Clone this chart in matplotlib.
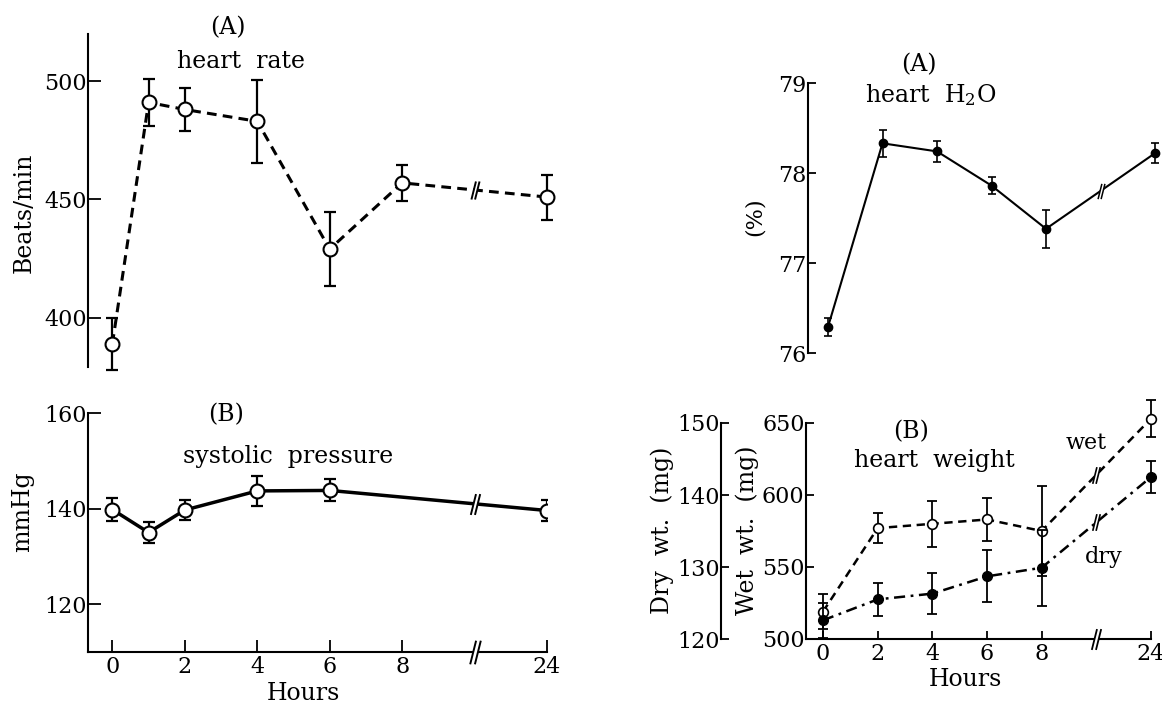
import matplotlib
matplotlib.use('Agg')  # no display

import numpy as np
import matplotlib.pyplot as plt
from matplotlib.path import Path

plt.rcParams['font.family'] = 'DejaVu Serif'
plt.rcParams['mathtext.fontset'] = 'dejavuserif'
plt.rcParams['lines.scale_dashes'] = False

# heart rate (A, left)
hr_hours = [0, 1, 2, 4, 6, 8, 24]
hr_mean = [389, 491, 488, 483, 429, 457, 451]
hr_err = [11, 10, 9, 17.5, 15.5, 7.5, 9.5]

# systolic pressure (B, left)
sp_hours = [0, 1, 2, 4, 6, 24]
sp_mean = [139.8, 135.0, 139.7, 143.7, 143.8, 139.6]
sp_err = [2.4, 2.3, 2.0, 3.2, 2.3, 2.1]

# heart water content (A, right)
h2o_hours = [0, 2, 4, 6, 8, 24]
h2o_mean = [76.29, 78.33, 78.24, 77.86, 77.38, 78.22]
h2o_err = [0.10, 0.15, 0.12, 0.09, 0.21, 0.11]

# heart weight (B, right)
wt_hours = [0, 2, 4, 6, 8, 24]
wet_mean = [519, 577, 580, 583, 575, 653]
wet_err = [12, 10.5, 16, 15, 31, 13]
dry_mean = [122.6, 125.5, 126.3, 128.7, 129.9, 142.5]
dry_err = [2.4, 2.3, 2.8, 3.6, 5.3, 2.2]

tick_hours = [0, 2, 4, 6, 8, 24]

W, H = 1162, 703
fig = plt.figure(figsize=(W / 100, H / 100), dpi=100)


def px_axes(x0, x1, ytop, ybot):
    return fig.add_axes([x0 / W, 1 - ybot / H, (x1 - x0) / W, (ybot - ytop) / H])


def pos(hours):
    # 24 h is drawn after the axis break, at slot 12
    return [h if h <= 8 else 12 for h in hours]


BREAK = Path([(-0.45, -1), (0.05, 1), (-0.05, -1), (0.45, 1)],
             [Path.MOVETO, Path.LINETO, Path.MOVETO, Path.LINETO])
GAP = Path([(-0.45, -1), (0.05, 1), (0.45, 1), (-0.05, -1), (-0.45, -1)],
           [Path.MOVETO, Path.LINETO, Path.LINETO, Path.LINETO, Path.CLOSEPOLY])


def add_break(ax, y, size=14, lw=1.4):
    ax.plot([10], [y], marker=GAP, ms=size, mfc='white', mec='none', mew=0,
            ls='none', zorder=5, clip_on=False)
    ax.plot([10], [y], marker=BREAK, ms=size, mfc='none', mec='k', mew=lw,
            ls='none', zorder=6, clip_on=False)


def style(ax, xaxis=False, tlen=8):
    for s in ['top', 'right']:
        ax.spines[s].set_visible(False)
    ax.spines['bottom'].set_visible(xaxis)
    for s in ax.spines.values():
        s.set_linewidth(1.5)
    ax.tick_params(direction='in', length=tlen, width=1.3, labelsize=16, pad=1)
    ax.tick_params(axis='x', pad=3)
    if xaxis:
        ax.set_xticks(pos(tick_hours))
        ax.set_xticklabels([str(h) for h in tick_hours])
    else:
        ax.set_xticks([])


def txt(x, y, s, size=17, **kw):
    fig.text(x / W, 1 - y / H, s, fontsize=size, ha='center', va='center', **kw)


# ---- (A) heart rate
ax = px_axes(88, 547, 34, 367)
ax.set_xlim(-0.673, 12)
ax.set_ylim(379.2, 519.9)
style(ax, tlen=9)
ax.set_yticks([400, 450, 500])
ax.errorbar(pos(hr_hours), hr_mean, yerr=hr_err, fmt='none', ecolor='k',
            elinewidth=1.6, capsize=4, capthick=1.6, clip_on=False)
ax.plot(pos(hr_hours), hr_mean, color='k', lw=2.2, dashes=(7, 4.5),
        marker='o', ms=10, mfc='white', mec='k', mew=1.5, zorder=4, clip_on=False)
add_break(ax, np.interp(10, pos(hr_hours), hr_mean), size=13)

# ---- (B) systolic pressure
ax = px_axes(88, 547, 413, 652)
ax.set_xlim(-0.673, 12)
ax.set_ylim(110, 160)
style(ax, xaxis=True, tlen=9)
ax.set_yticks([120, 140, 160])
ax.errorbar(pos(sp_hours), sp_mean, yerr=sp_err, fmt='none', ecolor='k',
            elinewidth=1.6, capsize=4, capthick=1.6)
ax.plot(pos(sp_hours), sp_mean, color='k', lw=2.5,
        marker='o', ms=10, mfc='white', mec='k', mew=1.5, zorder=4)
add_break(ax, np.interp(10, pos(sp_hours), sp_mean), size=15)
add_break(ax, 110, size=17)

# ---- (A) heart H2O
ax = px_axes(808, 1155, 83, 353)
ax.set_xlim(-0.734, 12)
ax.set_ylim(76, 79)
style(ax, tlen=6)
ax.set_yticks([76, 77, 78, 79])
ax.errorbar(pos(h2o_hours), h2o_mean, yerr=h2o_err, fmt='none', ecolor='k',
            elinewidth=1.2, capsize=3, capthick=1.2, clip_on=False)
ax.plot(pos(h2o_hours), h2o_mean, color='k', lw=1.5,
        marker='o', ms=6, mfc='k', mec='k', zorder=4, clip_on=False)
add_break(ax, np.interp(10, pos(h2o_hours), h2o_mean), size=11, lw=1.1)

# ---- (B) heart weight
ax = px_axes(806, 1151, 423, 639)
ax.set_xlim(-0.622, 12)
ax.set_ylim(500, 650)
style(ax, xaxis=True, tlen=6)
ax.set_yticks([500, 550, 600, 650])
ax.errorbar(pos(wt_hours), wet_mean, yerr=wet_err, fmt='none', ecolor='k',
            elinewidth=1.3, capsize=3.5, capthick=1.3, clip_on=False)
ax.plot(pos(wt_hours), wet_mean, color='k', lw=1.8, dashes=(6, 4),
        marker='o', ms=7, mfc='white', mec='k', mew=1.2, zorder=4, clip_on=False)
add_break(ax, np.interp(10, pos(wt_hours), wet_mean), size=12, lw=1.2)
add_break(ax, 500, size=15, lw=1.3)

ax2 = ax.twinx()
ax2.set_ylim(120, 150)
ax2.yaxis.set_ticks_position('left')
ax2.spines['left'].set_position(('outward', 61))
for s in ['top', 'right', 'bottom']:
    ax2.spines[s].set_visible(False)
ax2.spines['left'].set_linewidth(1.5)
ax2.tick_params(direction='in', length=6, width=1.3, labelsize=16, pad=1)
ax2.set_yticks([120, 130, 140, 150])
ax2.errorbar(pos(wt_hours), dry_mean, yerr=dry_err, fmt='none', ecolor='k',
             elinewidth=1.3, capsize=3.5, capthick=1.3, clip_on=False)
ax2.plot(pos(wt_hours), dry_mean, color='k', lw=1.8, dashes=(8, 4, 2, 4),
         marker='o', ms=7, mfc='k', mec='k', zorder=4, clip_on=False)
add_break(ax2, np.interp(10, pos(wt_hours), dry_mean), size=12, lw=1.2)

# ---- texts
txt(228, 28, '(A)')
txt(241, 62, 'heart  rate')
txt(226, 415, '(B)')
txt(288, 457, 'systolic  pressure')
txt(919, 65, '(A)')
txt(931, 95, 'heart  H$_2$O')
txt(911, 432, '(B)')
txt(934, 460, 'heart  weight')
txt(1086, 443, 'wet', size=16)
txt(1104, 557, 'dry', size=16)
txt(303, 693, 'Hours')
txt(965, 679, 'Hours')
txt(24, 213, 'Beats/min', rotation=90)
txt(23, 512, 'mmHg', rotation=90)
txt(755, 217, '(%)', size=16, rotation=90)
txt(662, 530, 'Dry  wt.  (mg)', rotation=90)
txt(747, 530, 'Wet  wt.  (mg)', rotation=90)

fig.savefig('out.png', dpi=100)
print("Saved out.png")
